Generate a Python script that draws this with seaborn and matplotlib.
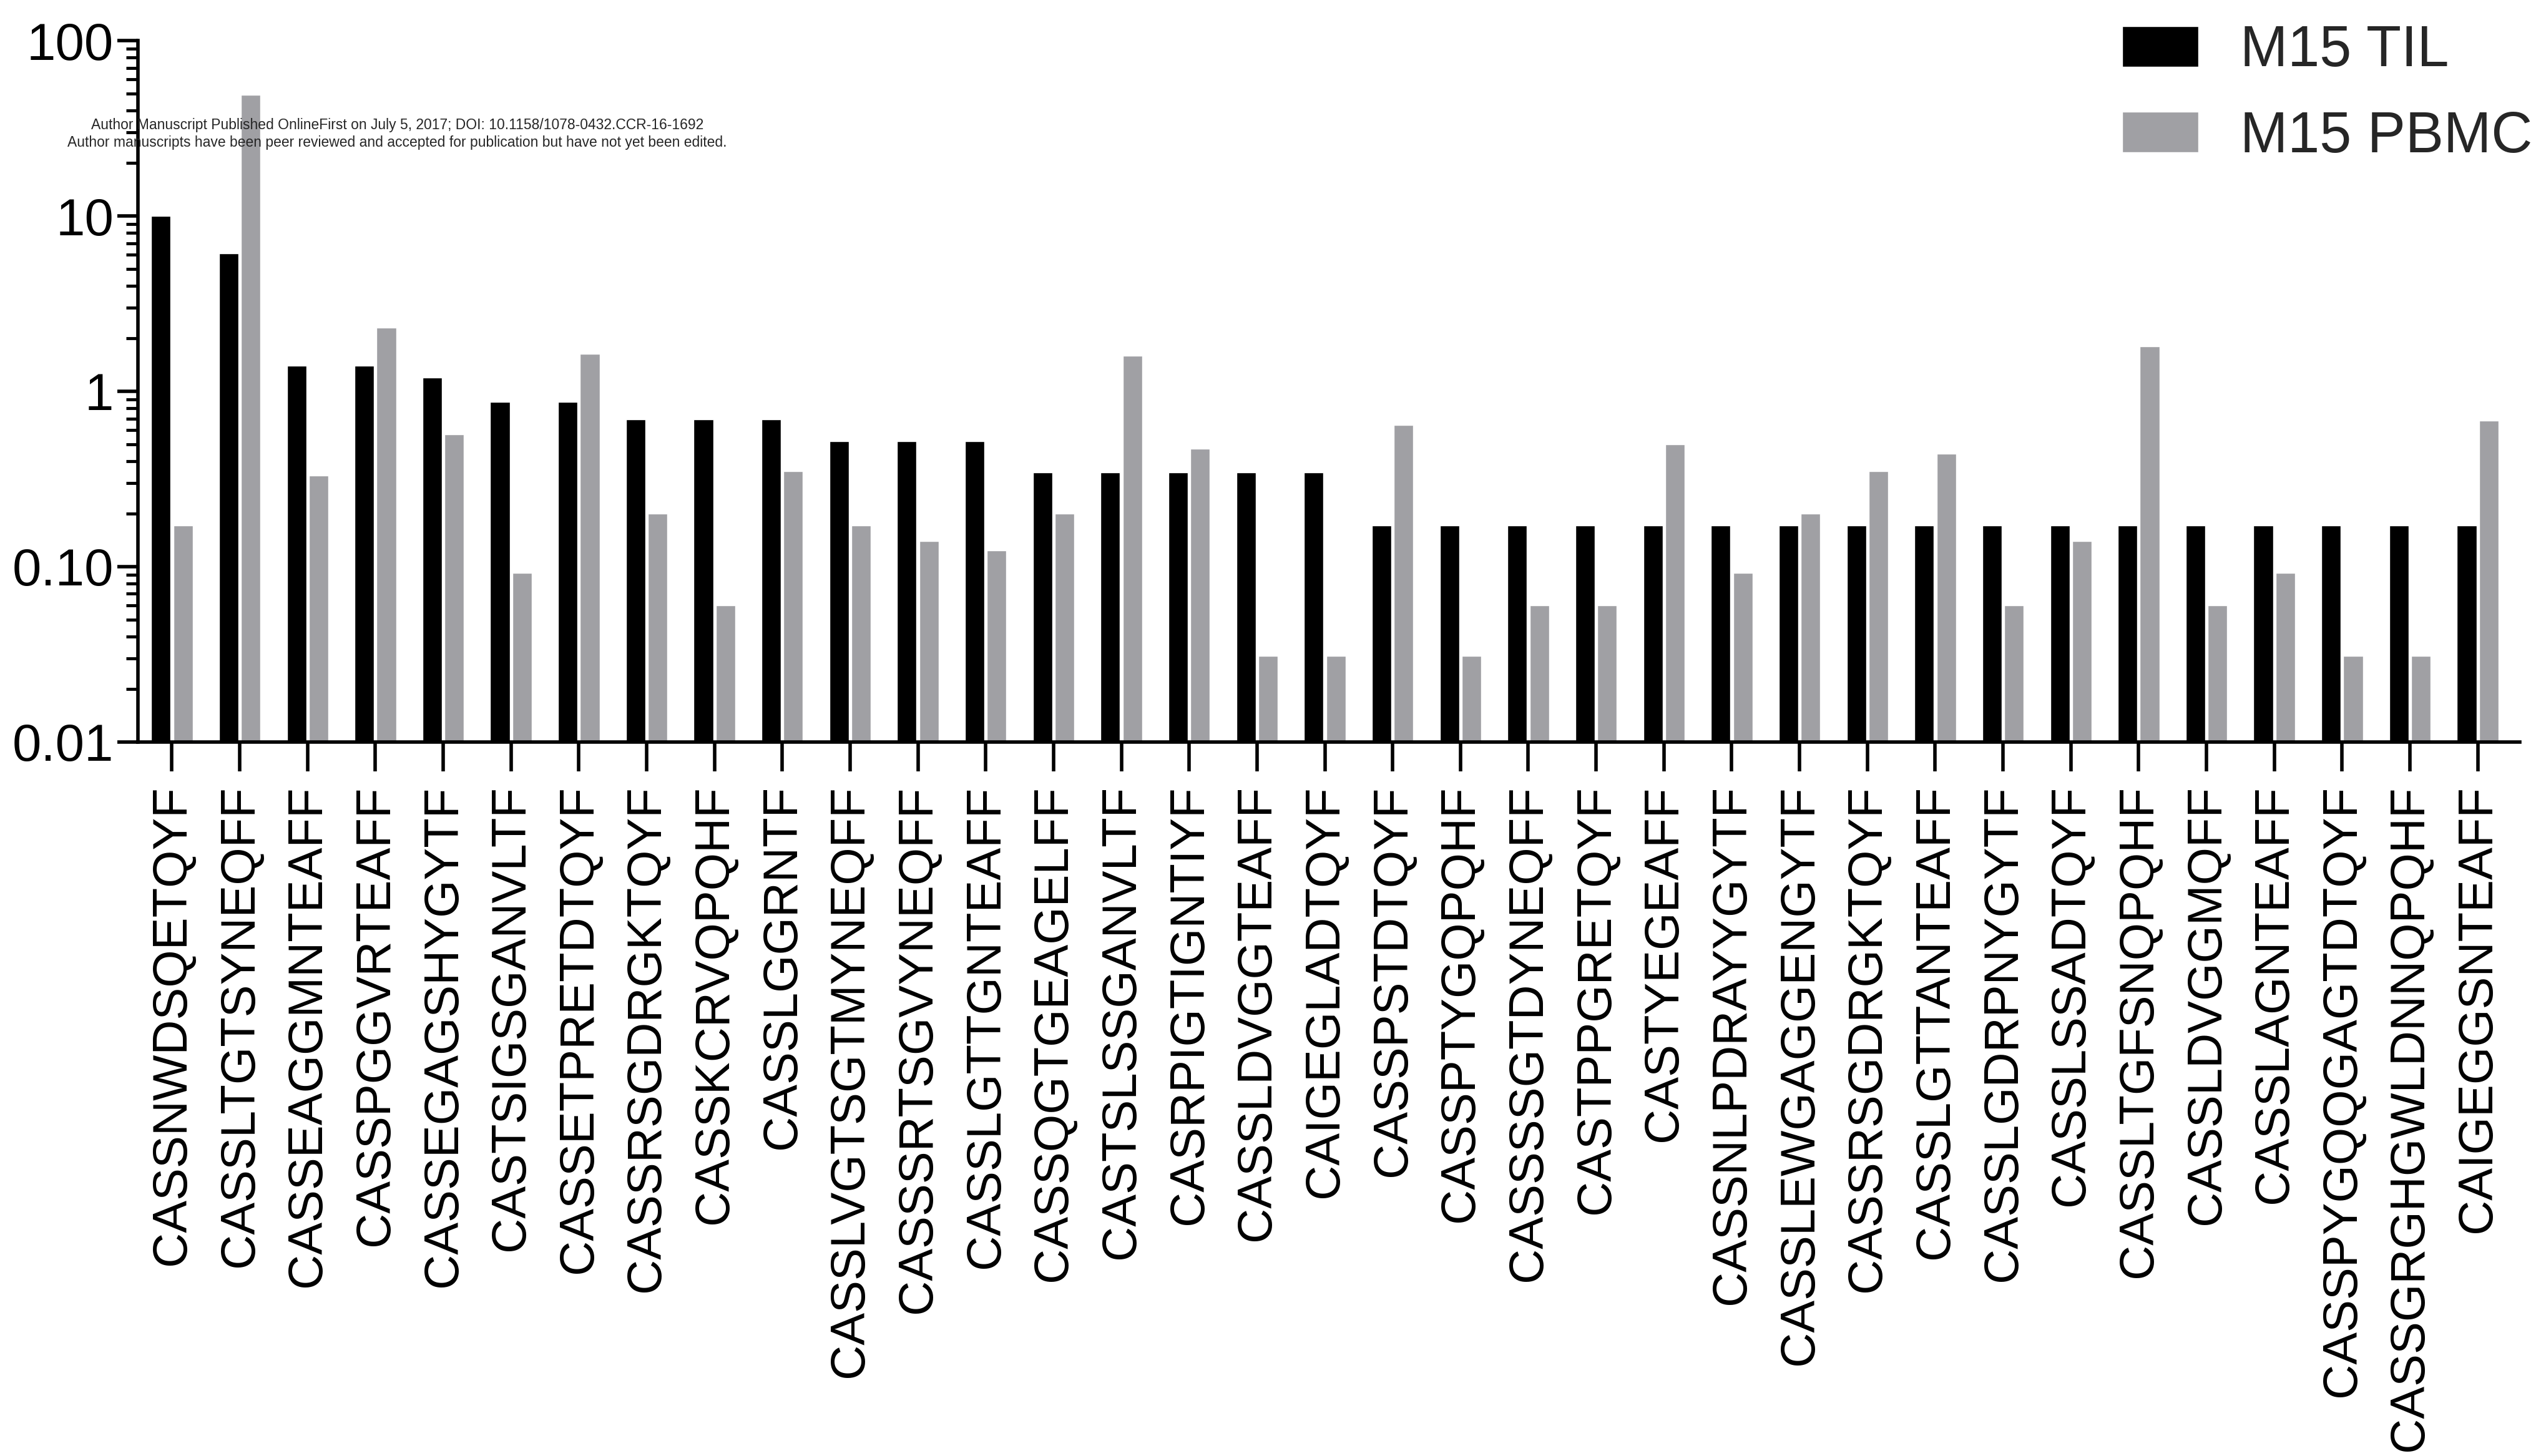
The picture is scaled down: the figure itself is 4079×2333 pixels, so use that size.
import numpy as np
import pandas as pd
import seaborn as sns
import matplotlib.pyplot as plt
from matplotlib.ticker import FixedLocator, LogLocator, NullFormatter

# CDR3 clonotypes (note CASSRSGDRGKTQYF appears twice in the original)
clonotypes = [
    'CASSNWDSQETQYF', 'CASSLTGTSYNEQFF', 'CASSEAGGMNTEAFF', 'CASSPGGVRTEAFF',
    'CASSEGAGSHYGYTF', 'CASTSIGSGANVLTF', 'CASSETPRETDTQYF', 'CASSRSGDRGKTQYF',
    'CASSKCRVQPQHF', 'CASSLGGRNTF', 'CASSLVGTSGTMYNEQFF', 'CASSSRTSGVYNEQFF',
    'CASSLGTTGNTEAFF', 'CASSQGTGEAGELFF', 'CASTSLSSGANVLTF', 'CASRPIGTIGNTIYF',
    'CASSLDVGGTEAFF', 'CAIGEGLADTQYF', 'CASSPSTDTQYF', 'CASSPTYGQPQHF',
    'CASSSSGTDYNEQFF', 'CASTPPGRETQYF', 'CASTYEGEAFF', 'CASSNLPDRAYYGYTF',
    'CASSLEWGAGGENGYTF', 'CASSRSGDRGKTQYF', 'CASSLGTTANTEAFF', 'CASSLGDRPNYGYTF',
    'CASSLSSADTQYF', 'CASSLTGFSNQPQHF', 'CASSLDVGGMQFF', 'CASSLAGNTEAFF',
    'CASSPYGQQGAGTDTQYF', 'CASSGRGHGWLDNNQPQHF', 'CAIGEGGSNTEAFF',
]
til = [10, 6.1, 1.4, 1.4, 1.2, 0.87, 0.87, 0.69, 0.69, 0.69,
       0.52, 0.52, 0.52, 0.345, 0.345, 0.345, 0.345, 0.345, 0.172, 0.172,
       0.172, 0.172, 0.172, 0.172, 0.172, 0.172, 0.172, 0.172, 0.172, 0.172,
       0.172, 0.172, 0.172, 0.172, 0.172]
pbmc = [0.172, 49, 0.33, 2.3, 0.57, 0.092, 1.63, 0.20, 0.06, 0.35,
        0.172, 0.14, 0.124, 0.20, 1.6, 0.47, 0.031, 0.031, 0.64, 0.031,
        0.06, 0.06, 0.50, 0.092, 0.20, 0.35, 0.44, 0.06, 0.14, 1.8,
        0.06, 0.092, 0.031, 0.031, 0.68]
series = ['M15 TIL', 'M15 PBMC']
colors = ['#000000', '#A0A0A4']

n = len(clonotypes)
df = pd.DataFrame({
    'idx': list(range(n)) * 2,
    'sample': [series[0]] * n + [series[1]] * n,
    'freq': til + pbmc,
})

sns.set_style('ticks')
plt.rcParams['font.family'] = ['Liberation Sans', 'DejaVu Sans']

fig = plt.figure(figsize=(40.79, 23.33), dpi=100)
ax = fig.add_axes([0.0542, 0.4904, 0.9355, 0.4817])

sns.barplot(data=df, x='idx', y='freq', hue='sample', order=list(range(n)),
            hue_order=series, palette=colors, width=0.65, gap=0.12,
            saturation=1, ax=ax, errorbar=None)
ax.set_yscale('log')
ax.set_ylim(0.01, 100)
ax.set_xlim(-0.5, n - 1 + 0.62)

ax.yaxis.set_major_locator(FixedLocator([0.01, 0.1, 1, 10, 100]))
ax.set_yticklabels(['0.01', '0.10', '1', '10', '100'])
ax.yaxis.set_minor_locator(LogLocator(base=10, subs=np.arange(2, 10)))
ax.yaxis.set_minor_formatter(NullFormatter())

ax.set_xticks(range(n))
ax.set_xticklabels(clonotypes, rotation=90)
ax.set_xlabel('')
ax.set_ylabel('')

for s in ['top', 'right']:
    ax.spines[s].set_visible(False)
for s in ['left', 'bottom']:
    ax.spines[s].set_linewidth(4)
    ax.spines[s].set_color('black')

ax.tick_params(axis='y', which='major', labelsize=60, length=24, width=4,
               pad=4, colors='black')
ax.tick_params(axis='y', which='minor', length=14, width=3.5, colors='black')
ax.tick_params(axis='x', which='major', labelsize=56, length=34, width=4,
               pad=16, colors='black')

sns.move_legend(ax, 'upper right', bbox_to_anchor=(0.9993, 0.991),
                bbox_transform=fig.transFigure, frameon=False, title=None,
                fontsize=66, handlelength=1.33, handleheight=0.71,
                handletextpad=0.74, labelspacing=0.56, borderaxespad=0,
                borderpad=0.2)

fig.text(0.156, 0.914,
         'Author Manuscript Published OnlineFirst on July 5, 2017; '
         'DOI: 10.1158/1078-0432.CCR-16-1692',
         ha='center', va='center', fontsize=16.5)
fig.text(0.156, 0.902,
         'Author manuscripts have been peer reviewed and accepted for '
         'publication but have not yet been edited.',
         ha='center', va='center', fontsize=16.5)

fig.savefig('out.png', dpi=100)
